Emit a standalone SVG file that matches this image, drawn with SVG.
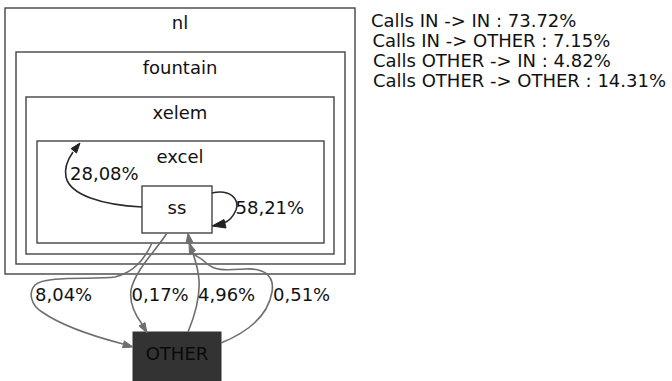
<svg xmlns="http://www.w3.org/2000/svg" width="672" height="381" viewBox="0 0 672 381">
  <style>
    text { font-family: "DejaVu Sans", "Liberation Sans", sans-serif; font-size: 18px; fill: #111; }
    .mid { text-anchor: middle; }
    .cluster { fill: none; stroke: #444; stroke-width: 1.4; }
    .dark { fill: none; stroke: #2a2a2a; stroke-width: 1.6; }
    .gray { fill: none; stroke: #6e6e6e; stroke-width: 1.6; }
    .headdark { fill: #222; stroke: #222; stroke-width: 1; }
    .headgray { fill: #6e6e6e; stroke: #6e6e6e; stroke-width: 1; }
  </style>
  <rect width="672" height="381" fill="#fff"/>

  <!-- nested clusters -->
  <g id="cluster_nl">
    <rect class="cluster" x="5" y="8" width="350" height="266"/>
    <text class="mid" x="180" y="29">nl</text>
  </g>
  <g id="cluster_fountain">
    <rect class="cluster" x="16" y="52" width="329" height="212"/>
    <text class="mid" x="180" y="74">fountain</text>
  </g>
  <g id="cluster_xelem">
    <rect class="cluster" x="26" y="97" width="308" height="157"/>
    <text class="mid" x="180" y="119">xelem</text>
  </g>
  <g id="cluster_excel">
    <rect class="cluster" x="37" y="141" width="287" height="102"/>
    <text class="mid" x="180" y="163">excel</text>
  </g>

  <!-- nodes -->
  <g id="node_ss">
    <rect x="142" y="186" width="70" height="47" fill="#fff" stroke="#444" stroke-width="1.4"/>
    <text class="mid" x="177" y="214">ss</text>
  </g>
  <g id="node_other">
    <rect x="133" y="332" width="88" height="50" fill="#333" stroke="#333" stroke-width="1"/>
    <text class="mid" x="177" y="360" style="fill:#0a0a0a">OTHER</text>
  </g>

  <!-- connectors -->
  <g id="edges">
    <!-- ss -> excel -->
    <path class="dark" d="M142,207 C102,205 70,195 66,177 C64,167 68,159 73,152"/>
    <polygon class="headdark" points="80,143 76.5,153 71.1,148.6"/>
    <text x="70" y="180">28,08%</text>

    <!-- ss -> ss -->
    <path class="dark" d="M212,193 C230,189 240,199 236,210 C233,217 229,221 224,223"/>
    <polygon class="headdark" points="212,226 224,219.5 226,228"/>
    <text x="235.5" y="214">58,21%</text>

    <!-- excel -> OTHER -->
    <path class="gray" d="M152,243 C145,258 135,272 115,277 C95,280 45,275 35,285 C28,293 31,305 42,312 C65,328 100,338 123,344"/>
    <polygon class="headgray" points="133,347 122.5,347.7 124.3,340.9"/>
    <text x="35" y="301">8,04%</text>

    <!-- ss -> OTHER -->
    <path class="gray" d="M167,233 C158,248 135,270 131,290 C129,305 136,316 142,324"/>
    <polygon class="headgray" points="147,333 139,326 145,322.6"/>
    <text x="131.5" y="301">0,17%</text>

    <!-- OTHER -> ss -->
    <path class="gray" d="M188,332 C195,315 200,295 199,280 C198,265 193,255 190,243"/>
    <polygon class="headgray" points="188,233 193,242.5 186,243.5"/>
    <text x="198" y="301">4,96%</text>

    <!-- OTHER -> excel -->
    <path class="gray" d="M221,343 C248,332 268,316 272,292 C275,274 262,268 245,269 C228,270 215,272 205,262 C200,257 196,257 193,253"/>
    <polygon class="headgray" points="189,243 195.5,250.5 189.5,254.5"/>
    <text x="273" y="301">0,51%</text>
  </g>

  <!-- call ratios -->
  <g id="legend">
    <text x="371" y="26.5">Calls IN -&gt; IN : 73.72%</text>
    <text x="372.5" y="46.5">Calls IN -&gt; OTHER : 7.15%</text>
    <text x="373" y="66.5">Calls OTHER -&gt; IN : 4.82%</text>
    <text x="373" y="87">Calls OTHER -&gt; OTHER : 14.31%</text>
  </g>
</svg>
